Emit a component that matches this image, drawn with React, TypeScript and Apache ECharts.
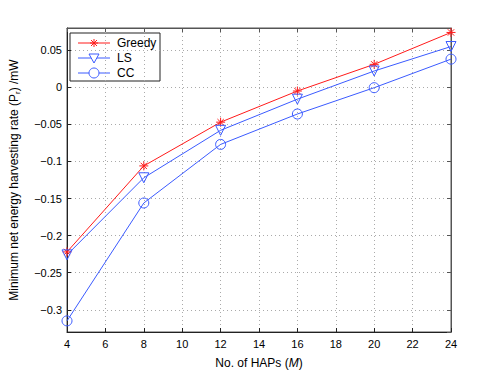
import React, { useEffect, useRef } from "react";
import * as echarts from "echarts";

const xValues = [4, 8, 12, 16, 20, 24];
const greedy = [-0.222, -0.106, -0.047, -0.005, 0.031, 0.074];
const ls = [-0.226, -0.122, -0.058, -0.016, 0.022, 0.055];
const cc = [-0.315, -0.156, -0.077, -0.036, -0.0005, 0.038];
const seriesNames = ["Greedy", "LS", "CC"];

const FONT = "Liberation Sans, Arial, Helvetica, sans-serif";
const RED = "#ff1a1a";
const BLUE = "#3b5bff";

const asterisk = "path://M5,0L5,10M0,5L10,5M1.5,1.5L8.5,8.5M8.5,1.5L1.5,8.5";
const triDown = "path://M0,0L10,0L5,9Z";

function fmt(v: number) {
  const r = Math.round(v * 100) / 100;
  if (Math.abs(r) < 1e-9) return "0";
  const s = String(Math.abs(r));
  return (r < 0 ? "\u2212" : "") + s;
}

function legendGraphic() {
  const x0 = 70, y0 = 33, w = 90, h = 48;
  const rows = [43, 58, 73];
  const colors = [RED, BLUE, BLUE];
  const children: any[] = [
    { type: "rect", shape: { x: x0, y: y0, width: w, height: h }, style: { fill: "#fff", stroke: "#222", lineWidth: 1 } },
  ];
  rows.forEach((y, i) => {
    const c = colors[i];
    children.push({ type: "line", shape: { x1: 78, y1: y, x2: 110, y2: y }, style: { stroke: c, lineWidth: 1 } });
    if (i === 0) {
      const r = 4;
      children.push({ type: "line", shape: { x1: 94 - r, y1: y, x2: 94 + r, y2: y }, style: { stroke: c, lineWidth: 1 } });
      children.push({ type: "line", shape: { x1: 94, y1: y - r, x2: 94, y2: y + r }, style: { stroke: c, lineWidth: 1 } });
      children.push({ type: "line", shape: { x1: 91, y1: y - 3, x2: 97, y2: y + 3 }, style: { stroke: c, lineWidth: 1 } });
      children.push({ type: "line", shape: { x1: 97, y1: y - 3, x2: 91, y2: y + 3 }, style: { stroke: c, lineWidth: 1 } });
    } else if (i === 1) {
      children.push({ type: "polygon", shape: { points: [[89, y - 4], [99, y - 4], [94, y + 5]] }, style: { fill: "#fff", stroke: c, lineWidth: 1 } });
    } else {
      children.push({ type: "circle", shape: { cx: 94, cy: y, r: 5 }, style: { fill: "#fff", stroke: c, lineWidth: 1 } });
    }
    children.push({
      type: "text",
      x: 117,
      y,
      style: { text: seriesNames[i], fill: "#000", font: `12px ${FONT}`, textVerticalAlign: "middle", verticalAlign: "middle" },
    });
  });
  return [{ type: "group", z: 100, children }];
}

export default function App() {
  const ref = useRef<HTMLDivElement>(null);
  useEffect(() => {
    if (!ref.current) return;
    const chart = echarts.init(ref.current, undefined, { renderer: "svg" });
    const mk = (name: string, data: number[], color: string, symbol: string, size: number) => ({
      name,
      type: "line",
      data: xValues.map((x, i) => [x, data[i]]),
      symbol,
      symbolSize: size,
      showAllSymbol: true,
      lineStyle: { color, width: 1 },
      itemStyle: { color: symbol === asterisk ? color : "rgba(255,255,255,0)", borderColor: color, borderWidth: 1 },
      emphasis: { disabled: true },
      z: 3,
    });
    chart.setOption({
      animation: false,
      backgroundColor: "#fff",
      textStyle: { fontFamily: FONT },
      grid: {
        left: 65,
        right: 47,
        top: 28,
        bottom: 42,
        show: true,
        borderColor: "#555",
        borderWidth: 1,
        backgroundColor: "transparent",
      },
      graphic: legendGraphic(),
      xAxis: [
        {
          type: "value",
          min: 4,
          max: 24,
          interval: 2,
          position: "bottom",
          name: "No. of HAPs ({i|M})",
          nameLocation: "middle",
          nameGap: 25,
          nameTextStyle: {
            fontFamily: FONT,
            fontSize: 12,
            color: "#000",
            rich: { i: { fontStyle: "italic", fontFamily: FONT, fontSize: 12, color: "#000" } },
          },
          axisLine: { show: true, onZero: false, lineStyle: { color: "#222", width: 1 } },
          axisTick: { show: true, inside: true, length: 4, lineStyle: { color: "#222" } },
          axisLabel: { fontFamily: FONT, fontSize: 11, color: "#000", margin: 6 },
          splitLine: { show: true, lineStyle: { color: "#aaa", type: [1, 3], width: 1 } },
        },
        {
          type: "value",
          min: 4,
          max: 24,
          interval: 2,
          position: "top",
          axisLine: { show: true, onZero: false, lineStyle: { color: "#555", width: 1 } },
          axisTick: { show: true, inside: true, length: 4, lineStyle: { color: "#555" } },
          axisLabel: { show: false },
          splitLine: { show: false },
        },
      ],
      yAxis: [
        {
          type: "value",
          min: -0.33,
          max: 0.08,
          splitNumber: 8,
          position: "left",
          name: "Minimum net energy harvesting rate (P{s|r}) /mW",
          nameLocation: "middle",
          nameGap: 46,
          nameRotate: 90,
          nameTextStyle: {
            fontFamily: FONT,
            fontSize: 12,
            color: "#000",
            rich: { s: { fontFamily: FONT, fontSize: 8, color: "#000", padding: [6, 0, 0, 0] } },
          },
          axisLine: { show: true, onZero: false, lineStyle: { color: "#222", width: 1 } },
          axisTick: { show: true, inside: true, length: 4, lineStyle: { color: "#222" } },
          axisLabel: {
            fontFamily: FONT,
            fontSize: 11,
            color: "#000",
            margin: 5,
            showMinLabel: false,
            showMaxLabel: false,
            formatter: (v: number) => fmt(v),
          },
          splitLine: { show: true, lineStyle: { color: "#aaa", type: [1, 3], width: 1 } },
        },
        {
          type: "value",
          min: -0.33,
          max: 0.08,
          splitNumber: 8,
          position: "right",
          axisLine: { show: true, onZero: false, lineStyle: { color: "#555", width: 1 } },
          axisTick: { show: true, inside: true, length: 4, lineStyle: { color: "#555" } },
          axisLabel: { show: false },
          splitLine: { show: false },
        },
      ],
      series: [
        mk(seriesNames[0], greedy, RED, asterisk, 9),
        mk(seriesNames[1], ls, BLUE, triDown, 10),
        mk(seriesNames[2], cc, BLUE, "circle", 10),
      ],
    });
    return () => chart.dispose();
  }, []);
  return (
    <div
      ref={ref}
      style={{ position: "absolute", left: 0, top: 0, width: 498, height: 374 }}
    />
  );
}
